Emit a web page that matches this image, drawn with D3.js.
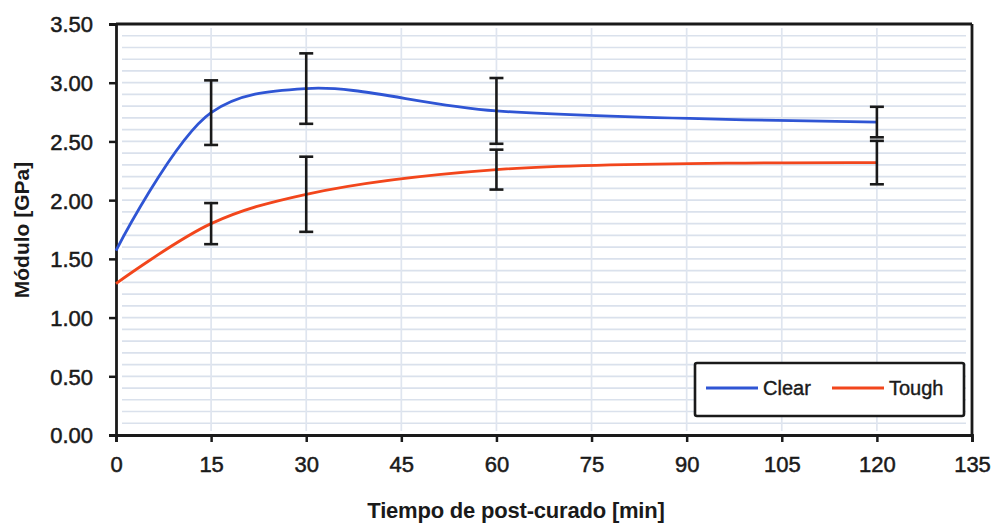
<!DOCTYPE html>
<html>
<head>
<meta charset="utf-8">
<script src="https://cdn.jsdelivr.net/npm/d3@7"></script>
<style>
  body { margin: 0; background: #fff; }
  svg text { font-family: "Liberation Sans", Arial, sans-serif; fill: #1a1a1a; }
</style>
</head>
<body>
<svg id="chart" width="992" height="523"></svg>
<script>
// data
const times = [0, 15, 30, 60, 120];
const clear = [1.57, 2.745, 2.95, 2.76, 2.665];
const clearErr = [null, 0.275, 0.30, 0.28, 0.13];
const tough = [1.29, 1.80, 2.05, 2.26, 2.32];
const toughErr = [null, 0.175, 0.32, 0.17, 0.185];
const xTicks = [0, 15, 30, 45, 60, 75, 90, 105, 120, 135];
const yTicks = [0, 0.5, 1, 1.5, 2, 2.5, 3, 3.5];

const series = [
  { name: 'Clear', values: clear, err: clearErr, color: '#2f55d4' },
  { name: 'Tough', values: tough, err: toughErr, color: '#f2461c' }
];

const margin = { top: 24, right: 20, bottom: 88, left: 116 };
const width = 992 - margin.left - margin.right;
const height = 523 - margin.top - margin.bottom;

const svg = d3.select('#chart');
const g = svg.append('g').attr('transform', `translate(${margin.left},${margin.top})`);

const x = d3.scaleLinear().domain([0, 135]).range([0, width]);
const y = d3.scaleLinear().domain([0, 3.5]).range([height, 0]);

// gridlines (minor every 0.1)
const minor = d3.range(1, 35).map(d => d / 10);
g.append('g')
  .selectAll('line')
  .data(minor)
  .enter()
  .append('line')
  .attr('x1', 6).attr('x2', width - 6)
  .attr('y1', d => y(d)).attr('y2', d => y(d))
  .attr('stroke', '#dae1ec')
  .attr('stroke-width', 1.7);

g.append('g')
  .selectAll('line')
  .data(xTicks.slice(1, -1))
  .enter()
  .append('line')
  .attr('x1', d => x(d)).attr('x2', d => x(d))
  .attr('y1', 4).attr('y2', height - 4)
  .attr('stroke', '#dfe5ef')
  .attr('stroke-width', 1.7);

// axes
const xAxis = g.append('g')
  .attr('transform', `translate(0,${height})`)
  .call(d3.axisBottom(x).tickValues(xTicks).tickSize(7).tickPadding(14).tickFormat(d3.format('d')));
const yAxis = g.append('g')
  .call(d3.axisLeft(y).tickValues(yTicks).tickSize(7).tickPadding(16).tickFormat(d3.format('.2f')));

[xAxis, yAxis].forEach(a => {
  a.select('.domain').attr('stroke', '#1a1a1a').attr('stroke-width', 2.8);
  a.selectAll('.tick line').attr('stroke', '#1a1a1a').attr('stroke-width', 2.5);
  a.selectAll('.tick text')
    .attr('font-size', 22)
    .attr('font-family', '"Liberation Sans", Arial, sans-serif')
    .attr('fill', '#1a1a1a')
    .attr('stroke', '#1a1a1a')
    .attr('stroke-width', 0.5);
});
yAxis.selectAll('.tick text').attr('dy', '0.36em');

// frame top and right
g.append('line').attr('x1', 0).attr('x2', width).attr('y1', 0).attr('y2', 0)
  .attr('stroke', '#1a1a1a').attr('stroke-width', 2.8);
g.append('line').attr('x1', width).attr('x2', width).attr('y1', 0).attr('y2', height)
  .attr('stroke', '#1a1a1a').attr('stroke-width', 2.8);

// lines
const line = d3.line()
  .x(d => x(d[0]))
  .y(d => y(d[1]))
  .curve(d3.curveCatmullRom.alpha(0.5));

series.forEach(s => {
  g.append('path')
    .datum(times.map((t, i) => [t, s.values[i]]))
    .attr('d', line)
    .attr('fill', 'none')
    .attr('stroke', s.color)
    .attr('stroke-width', 2.8);
});

// error bars
series.forEach(s => {
  times.forEach((t, i) => {
    const e = s.err[i];
    if (e == null) return;
    const cx = x(t);
    const top = y(s.values[i] + e);
    const bot = y(s.values[i] - e);
    const eb = g.append('g').attr('stroke', '#1a1a1a').attr('stroke-width', 2.6);
    eb.append('line').attr('x1', cx).attr('x2', cx).attr('y1', top).attr('y2', bot);
    eb.append('line').attr('x1', cx - 7).attr('x2', cx + 7).attr('y1', top).attr('y2', top);
    eb.append('line').attr('x1', cx - 7).attr('x2', cx + 7).attr('y1', bot).attr('y2', bot);
  });
});

// legend
const legend = svg.append('g').attr('transform', 'translate(695,363)');
legend.append('rect')
  .attr('width', 269).attr('height', 53)
  .attr('rx', 2)
  .attr('fill', '#fff')
  .attr('stroke', '#1a1a1a')
  .attr('stroke-width', 2.6);
series.forEach((s, i) => {
  const lx = 11 + i * 126;
  legend.append('line')
    .attr('x1', lx).attr('x2', lx + 52)
    .attr('y1', 25).attr('y2', 25)
    .attr('stroke', s.color).attr('stroke-width', 2.8);
  legend.append('text')
    .attr('x', lx + 57).attr('y', 32)
    .attr('font-size', 20)
    .attr('stroke', '#1a1a1a')
    .attr('stroke-width', 0.4)
    .text(s.name);
});

// axis titles
svg.append('text')
  .attr('x', 516).attr('y', 518)
  .attr('text-anchor', 'middle')
  .attr('font-family', 'Lato, sans-serif')
  .attr('font-weight', 'bold')
  .attr('font-size', 22)
  .attr('letter-spacing', -0.2)
  .text('Tiempo de post-curado [min]');

svg.append('text')
  .attr('transform', 'translate(29,230) rotate(-90)')
  .attr('text-anchor', 'middle')
  .attr('font-weight', 'bold')
  .attr('font-size', 21)
  .text('Módulo [GPa]');
</script>
</body>
</html>
